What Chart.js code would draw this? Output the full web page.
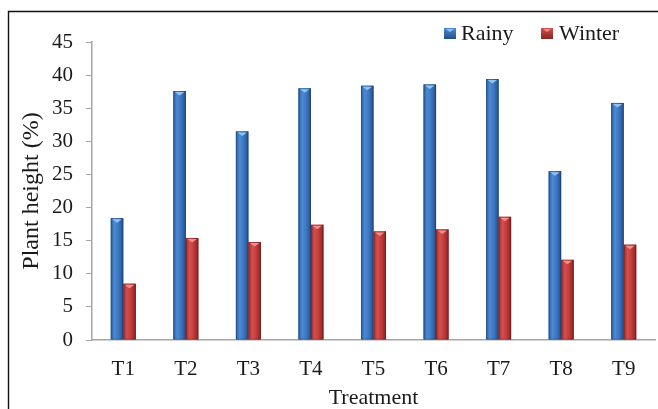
<!DOCTYPE html>
<html>
<head>
<meta charset="utf-8">
<script src="https://cdn.jsdelivr.net/npm/chart.js@4/dist/chart.umd.min.js"></script>
<style>
  html, body { margin: 0; padding: 0; background: #fff; }
  #wrap { width: 658px; height: 409px; position: relative; }
</style>
</head>
<body>
<div id="wrap"><canvas id="c" width="658" height="409"></canvas></div>
<script>
// Plant height by treatment for the two seasons
const treatments = ['T1', 'T2', 'T3', 'T4', 'T5', 'T6', 'T7', 'T8', 'T9'];
const rainy  = [18.4, 37.6, 31.5, 38.0, 38.4, 38.6, 39.4, 25.5, 35.8];
const winter = [8.5, 15.4, 14.8, 17.4, 16.4, 16.7, 18.6, 12.1, 14.4];
const yTicks = [0, 5, 10, 15, 20, 25, 30, 35, 40, 45];

const SERIF = '"Liberation Serif", "Times New Roman", serif';

// colour ramps used to shade each column like a rounded bar
const shades = {
  Rainy:  { edgeL: '#2b5c9c', hi: '#4d8ad4', mid: '#3a74bf', edgeR: '#244f88', cap: '#8fc3f2' },
  Winter: { edgeL: '#9e2a2a', hi: '#d4504d', mid: '#c03a39', edgeR: '#862424', cap: '#f0908c' }
};

function columnGradient(ctx, x0, x1, s) {
  const g = ctx.createLinearGradient(x0, 0, x1, 0);
  g.addColorStop(0, s.edgeL);
  g.addColorStop(0.3, s.hi);
  g.addColorStop(0.65, s.mid);
  g.addColorStop(1, s.edgeR);
  return g;
}

// shaded columns with a light chevron at the top
const shadedBars = {
  id: 'shadedBars',
  afterDatasetsDraw(chart) {
    const ctx = chart.ctx;
    chart.data.datasets.forEach((ds, di) => {
      const s = shades[ds.label];
      chart.getDatasetMeta(di).data.forEach(bar => {
        const { x, y, base, width } = bar.getProps(['x', 'y', 'base', 'width'], true);
        const x0 = x - width / 2, x1 = x + width / 2;
        ctx.save();
        ctx.fillStyle = columnGradient(ctx, x0, x1, s);
        ctx.fillRect(x0, y, width, base - y);
        ctx.strokeStyle = 'rgba(0,0,0,0.18)';
        ctx.lineWidth = 1;
        ctx.strokeRect(x0 + 0.5, y + 0.5, width - 1, base - y - 1);
        // top chevron
        ctx.fillStyle = s.cap;
        ctx.beginPath();
        ctx.moveTo(x0 + 1.5, y + 1);
        ctx.lineTo(x1 - 1.5, y + 1);
        ctx.lineTo(x, y + 4.5);
        ctx.closePath();
        ctx.fill();
        ctx.restore();
      });
    });
  }
};

// legend in the upper right plus the frame around the figure
const legendSlots = [{ box: 444, text: 461 }, { box: 541, text: 559 }];
const frameAndLegend = {
  id: 'frameAndLegend',
  afterDraw(chart) {
    const ctx = chart.ctx;
    ctx.save();
    ctx.strokeStyle = '#111';
    ctx.lineWidth = 1.4;
    ctx.beginPath();
    ctx.moveTo(8.5, 409);
    ctx.lineTo(8.5, 11.5);
    ctx.lineTo(658, 11.5);
    ctx.stroke();

    ctx.font = '22px ' + SERIF;
    ctx.textBaseline = 'middle';
    const ly = 33;
    chart.data.datasets.forEach((ds, i) => {
      const s = shades[ds.label];
      const lx = legendSlots[i].box;
      const g = ctx.createLinearGradient(0, ly - 5, 0, ly + 6);
      g.addColorStop(0, s.hi);
      g.addColorStop(1, s.edgeR);
      ctx.fillStyle = g;
      ctx.fillRect(lx, ly - 5, 12, 11);
      ctx.fillStyle = s.cap;
      ctx.beginPath();
      ctx.moveTo(lx + 2, ly - 4);
      ctx.lineTo(lx + 10, ly - 4);
      ctx.lineTo(lx + 6, ly - 1);
      ctx.closePath();
      ctx.fill();
      ctx.fillStyle = '#1a1a1a';
      ctx.textAlign = 'left';
      ctx.fillText(ds.label, legendSlots[i].text, ly + 1);
    });
    ctx.restore();
  }
};

new Chart(document.getElementById('c'), {
  type: 'bar',
  data: {
    labels: treatments,
    datasets: [
      { label: 'Rainy', data: rainy, backgroundColor: '#3a74bf' },
      { label: 'Winter', data: winter, backgroundColor: '#c03a39' }
    ]
  },
  options: {
    responsive: false,
    animation: false,
    devicePixelRatio: 1,
    layout: { padding: { left: 0, top: 42, right: 3, bottom: 0 } },
    datasets: { bar: { categoryPercentage: 0.4, barPercentage: 1.0 } },
    plugins: { legend: { display: false }, tooltip: { enabled: false } },
    scales: {
      x: {
        grid: { drawOnChartArea: false, drawTicks: false },
        border: { color: '#a6a6a6', width: 1.5 },
        ticks: { font: { family: SERIF, size: 21 }, color: '#1a1a1a', padding: 17 },
        title: { display: true, text: 'Treatment', font: { family: SERIF, size: 22, lineHeight: 1 }, color: '#1a1a1a', padding: { top: 0, bottom: 0 } },
        afterFit(scale) { scale.height = 69; }
      },
      y: {
        min: 0,
        max: 45,
        afterBuildTicks(scale) { scale.ticks = yTicks.map(v => ({ value: v })); },
        grid: { drawOnChartArea: false, tickLength: 6, color: '#a6a6a6' },
        border: { color: '#a6a6a6', width: 1.5 },
        ticks: { font: { family: SERIF, size: 21 }, color: '#1a1a1a', padding: 13 },
        title: { display: true, text: 'Plant height (%)', font: { family: SERIF, size: 24, lineHeight: 1 }, color: '#1a1a1a', padding: { top: 20, bottom: 0 } },
        afterFit(scale) { scale.width = 92; }
      }
    }
  },
  plugins: [shadedBars, frameAndLegend]
});
</script>
</body>
</html>
